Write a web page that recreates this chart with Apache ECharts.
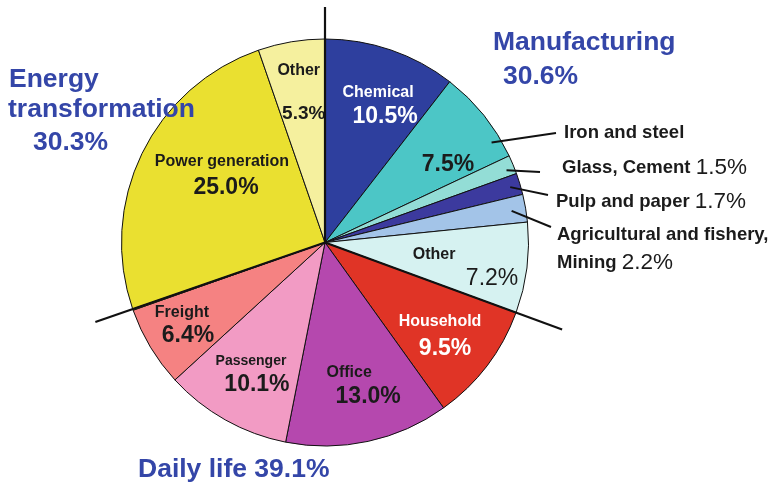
<!DOCTYPE html>
<html><head><meta charset="utf-8">
<script src="https://cdn.jsdelivr.net/npm/echarts@6/dist/echarts.min.js"></script>
<style>html,body{margin:0;padding:0;background:#fff}#c{width:773px;height:485px}</style>
</head><body><div id="c"></div>
<script>
// ---- data ----
const sectors = ['Chemical', 'Iron and steel', 'Glass, Cement', 'Pulp and paper',
  'Agricultural and fishery, Mining', 'Other', 'Household', 'Office', 'Passenger',
  'Freight', '(unlabelled)', 'Power generation', 'Other'];
const shares = [10.5, 7.5, 1.5, 1.7, 2.2, 7.2, 9.5, 13.0, 10.1, 6.4, 0.1, 25.0, 5.3];
const groupNames = ['Manufacturing', 'Daily life', 'Energy transformation'];
const groupShares = [30.6, 39.1, 30.3];

// ---- styles / layout ----
const sectorColors = ['#2E3F9E', '#4CC6C6', '#93DDD6', '#3C3A9E', '#A3C4E8', '#D6F2F1',
  '#E03426', '#B548AE', '#F29BC4', '#F58282', '#EAE030', '#EAE030', '#F5F09E'];
const FONT = '"Liberation Sans", Arial, Helvetica, sans-serif';
const GROUP_COLOR = '#3446A8';
const CX = 325, CY = 242.5, R = 203.5;
const RAD = Math.PI / 180;

// inside labels: radial factor k, angle offset da (deg), horizontal shift of % line, extra gap
const innerLayout = {
  0: {k: 0.826, da: -0.5, pdx: 7, white: true},
  1: {k: 0.753, da: 2.1, pctOnly: true},
  5: {k: 0.536, da: -5.9, pdx: 58, pw: 'normal'},
  6: {k: 0.660, da: -6.2, pdx: 5, extra: 3, white: true},
  7: {k: 0.604, da: 0.9, pdx: 19},
  8: {k: 0.645, da: 5.0, pdx: 6, nsize: 14},
  9: {k: 0.763, da: 8.1, pdx: 6, extra: -1},
  11: {k: 0.674, da: 15.4, pdx: 4, extra: 2},
  12: {k: 0.901, da: 1.3, pdx: 5, extra: 19, psize: 19}
};
// outside labels: leader start (k, da), leader end & label anchor offsets from centre
const outerLayout = {
  1: {k: 0.955, da: 7.7, end: [231, -109.5], at: [239, -109.5], noPct: true},
  2: {k: 0.96, da: 0.8, end: [215, -70.5], at: [237, -74.5]},
  3: {k: 0.95, da: 0.1, end: [223, -47.5], at: [231, -40.5]},
  4: {k: 0.93, da: 0.1, end: [226, -15.5], at: [232, -21.5], wrap: true}
};
const groupTextLayout = [
  {mode: 'name-pct', pos: [[493, 43], [503, 77]]},
  {mode: 'inline', pos: [[138, 470]]},
  {mode: 'words-pct', pos: [[9, 80], [8, 110], [33, 143]]}
];
const separatorLengths = [235.5, 252.6, 243];

// ---- derived geometry ----
const total = shares.reduce((a, b) => a + b, 0);
const midAngles = [];
let acc = 0;
shares.forEach(v => { midAngles.push((acc + v / 2) / total * 360); acc += v; });
function polar(r, degCW) {
  const t = degCW * RAD;
  return [CX + r * Math.sin(t), CY - r * Math.cos(t)];
}
const pct = v => v.toFixed(1) + '%';

const innerData = sectors.map((name, i) => {
  const L = innerLayout[i];
  const item = {name, value: shares[i], itemStyle: {color: sectorColors[i]}};
  if (!L) { item.label = {show: false}; return item; }
  const col = L.white ? '#ffffff' : '#1b1b1b';
  item.label = {
    show: true,
    formatter: L.pctOnly ? '{p|' + pct(shares[i]) + '}' : '{n|' + name + '}\n{p|' + pct(shares[i]) + '}',
    rich: {
      n: {fontSize: L.nsize || 16, fontWeight: 'bold', color: col, lineHeight: 20, fontFamily: FONT},
      p: {fontSize: L.psize || 23, fontWeight: L.pw || 'bold', color: col,
          lineHeight: 28 + 2 * (L.extra || 0), padding: [0, 0, 0, 2 * (L.pdx || 0)], fontFamily: FONT}
    }
  };
  return item;
});

const outerData = sectors.map((name, i) => {
  const L = outerLayout[i];
  const item = {name, value: shares[i]};
  if (!L) { item.label = {show: false}; item.labelLine = {show: false}; return item; }
  let txt;
  if (L.noPct) txt = '{n|' + name + '}';
  else if (L.wrap) {
    const cut = name.lastIndexOf(', ');
    txt = '{n|' + name.slice(0, cut + 1) + '}\n{n|' + name.slice(cut + 2) + ' }{v|' + pct(shares[i]) + '}';
  } else txt = '{n|' + name + ' }{v|' + pct(shares[i]) + '}';
  item.label = {show: true, formatter: txt};
  item.labelLine = {show: true};
  return item;
});

// group separators & labels
const graphics = [];
let gAcc = 0;
const bounds = [0];
groupShares.slice(0, -1).forEach(v => { gAcc += v; bounds.push(gAcc); });
bounds.forEach((b, i) => {
  const [x2, y2] = polar(separatorLengths[i], b / 100 * 360);
  graphics.push({type: 'line', z: 100, silent: true,
    shape: {x1: CX, y1: CY, x2, y2}, style: {stroke: '#111', lineWidth: 2.2}});
});
groupNames.forEach((g, i) => {
  const L = groupTextLayout[i];
  const p = pct(groupShares[i]);
  let lines;
  if (L.mode === 'name-pct') lines = [g, p];
  else if (L.mode === 'inline') lines = [g + ' ' + p];
  else lines = g.split(' ').concat([p]);
  lines.forEach((t, j) => {
    graphics.push({type: 'text', z: 101, silent: true, x: L.pos[j][0], y: L.pos[j][1],
      style: {text: t, fill: GROUP_COLOR, font: 'bold 26.5px ' + FONT, align: 'left', verticalAlign: 'middle'}});
  });
});

const chart = echarts.init(document.getElementById('c'), null, {renderer: 'canvas'});
chart.setOption({
  animation: false,
  backgroundColor: '#ffffff',
  graphic: graphics,
  series: [
    {
      type: 'pie', z: 2, center: [CX, CY], radius: R, startAngle: 90, clockwise: true,
      avoidLabelOverlap: false, silent: true, emphasis: {disabled: true},
      itemStyle: {borderColor: '#111', borderWidth: 1},
      label: {show: true, position: 'inside', overflow: 'none'},
      labelLine: {show: false},
      labelLayout: function (p) {
        const L = innerLayout[p.dataIndex];
        if (!L) return {};
        const [x, y] = polar(L.k * R, midAngles[p.dataIndex] + L.da);
        return {x, y, align: 'center', verticalAlign: 'top'};
      },
      data: innerData
    },
    {
      type: 'pie', z: 5, center: [CX, CY], radius: R, startAngle: 90, clockwise: true,
      avoidLabelOverlap: false, silent: true, emphasis: {disabled: true},
      itemStyle: {color: 'rgba(0,0,0,0)', borderWidth: 0},
      label: {show: false, position: 'outside', overflow: 'none',
        rich: {
          n: {fontSize: 18.5, fontWeight: 'bold', color: '#1b1b1b', lineHeight: 28, fontFamily: FONT},
          v: {fontSize: 22.5, fontWeight: 'normal', color: '#1b1b1b', lineHeight: 28, fontFamily: FONT}
        }},
      labelLine: {show: false, lineStyle: {color: '#111', width: 2}},
      labelLayout: function (p) {
        const L = outerLayout[p.dataIndex];
        if (!L) return {};
        const s = polar(L.k * R, midAngles[p.dataIndex] + L.da);
        return {x: CX + L.at[0], y: CY + L.at[1], align: 'left',
          verticalAlign: L.wrap ? 'top' : 'middle',
          labelLinePoints: [s, [CX + L.end[0], CY + L.end[1]]]};
      },
      data: outerData
    }
  ]
});
</script></body></html>
